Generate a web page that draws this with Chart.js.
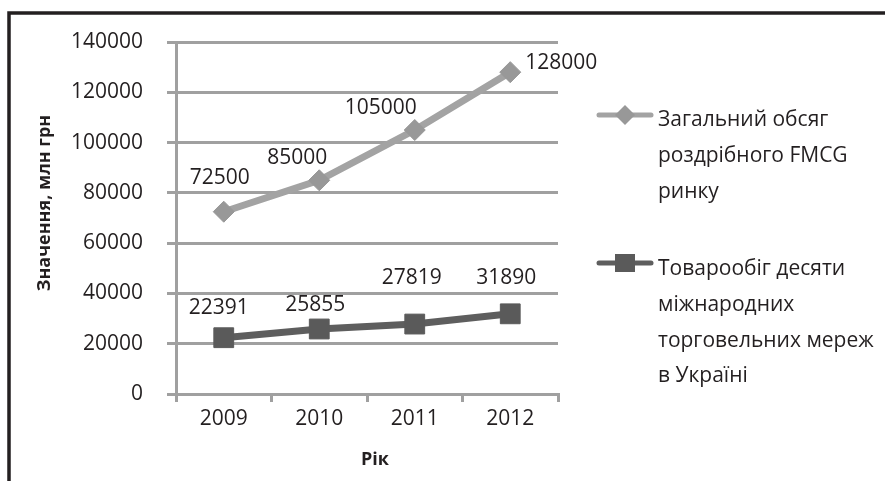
<!DOCTYPE html>
<html>
<head>
<meta charset="utf-8">
<script src="https://cdn.jsdelivr.net/npm/chart.js@4/dist/chart.umd.min.js"></script>
<style>
  html, body { margin: 0; padding: 0; background: #fff; }
  #wrap { width: 885px; height: 481px; position: relative; }
</style>
</head>
<body>
<div id="wrap"><canvas id="c" width="885" height="481"></canvas></div>
<script>
const years = ['2009', '2010', '2011', '2012'];
const totalMarket = [72500, 85000, 105000, 128000];
const chainTurnover = [22391, 25855, 27819, 31890];
const seriesNames = [
  ['Загальний обсяг', 'роздрібного FMCG', 'ринку'],
  ['Товарообіг десяти', 'міжнародних', 'торговельних мереж', 'в Україні']
];
const yTitle = 'Значення, млн грн';
const xTitle = 'Рік';

const FONT = '"Open Sans", "Noto Sans", sans-serif';
const C1 = '#a3a3a3', C1M = '#989898';
const C2 = '#5e5e5e', C2M = '#5a5a5a';
const GRID = '#a0a0a0';

// label offsets (px) relative to each point
const labelOffsets = [
  [[-4, -34], [-22, -22], [-34, -22], [51, -9]],
  [[-5, -30], [-4, -24], [-3, -46], [-4, -36]]
];

const decor = {
  id: 'decor',
  beforeDraw(chart) {
    const ctx = chart.ctx;
    ctx.save();
    ctx.fillStyle = '#fff';
    ctx.fillRect(0, 0, chart.width, chart.height);
    ctx.strokeStyle = '#231f20';
    ctx.lineWidth = 3.5;
    ctx.beginPath();
    ctx.moveTo(9, 481);
    ctx.lineTo(9, 13);
    ctx.lineTo(885, 13);
    ctx.stroke();
    ctx.restore();
  },
  afterDraw(chart) {
    const ctx = chart.ctx;
    ctx.save();
    // axis titles
    ctx.fillStyle = '#231f20';
    ctx.font = 'bold 18px ' + FONT;
    ctx.textAlign = 'center';
    ctx.textBaseline = 'middle';
    ctx.fillText(xTitle, 375, 460);
    ctx.translate(45, 203);
    ctx.rotate(-Math.PI / 2);
    ctx.fillText(yTitle, 0, 0);
    ctx.restore();

    // data labels
    ctx.save();
    ctx.font = '21px ' + FONT;
    ctx.fillStyle = '#231f20';
    ctx.textAlign = 'center';
    ctx.textBaseline = 'middle';
    chart.data.datasets.forEach((ds, di) => {
      const meta = chart.getDatasetMeta(di);
      meta.data.forEach((pt, i) => {
        const off = labelOffsets[di][i];
        ctx.fillText(String(ds.data[i]), pt.x + off[0], pt.y + off[1]);
      });
    });
    ctx.restore();

    // legend
    ctx.save();
    const legendY = [115, 263];
    const baselines = [[126, 162, 198], [275, 311, 347, 382]];
    chart.data.datasets.forEach((ds, di) => {
      const y = legendY[di];
      ctx.strokeStyle = ds.borderColor;
      ctx.lineWidth = 5;
      ctx.lineCap = 'round';
      ctx.beginPath();
      ctx.moveTo(599, y);
      ctx.lineTo(651, y);
      ctx.stroke();
      ctx.fillStyle = ds.pointBackgroundColor;
      ctx.beginPath();
      if (di === 0) {
        ctx.moveTo(625, y - 10);
        ctx.lineTo(635, y);
        ctx.lineTo(625, y + 10);
        ctx.lineTo(615, y);
        ctx.closePath();
      } else {
        ctx.rect(615, y - 9, 20, 18);
      }
      ctx.fill();
      ctx.fillStyle = '#231f20';
      ctx.font = '21px ' + FONT;
      ctx.textAlign = 'left';
      ctx.textBaseline = 'alphabetic';
      seriesNames[di].forEach((line, li) => {
        ctx.fillText(line, 658, baselines[di][li]);
      });
    });
    ctx.restore();
  }
};

new Chart(document.getElementById('c'), {
  type: 'line',
  data: {
    labels: years,
    datasets: [
      {
        label: seriesNames[0].join(' '),
        data: totalMarket,
        borderColor: C1,
        borderWidth: 7,
        pointStyle: 'rectRot',
        pointRadius: 10.5,
        pointBackgroundColor: C1M,
        pointBorderColor: C1M,
        pointBorderWidth: 1,
        tension: 0
      },
      {
        label: seriesNames[1].join(' '),
        data: chainTurnover,
        borderColor: C2,
        borderWidth: 7,
        pointStyle: 'rect',
        pointRadius: 14,
        pointBackgroundColor: C2M,
        pointBorderColor: C2M,
        pointBorderWidth: 1,
        tension: 0
      }
    ]
  },
  options: {
    responsive: false,
    animation: false,
    devicePixelRatio: 1,
    layout: { padding: { left: 0, top: 42, right: 327, bottom: 0 } },
    plugins: { legend: { display: false }, tooltip: { enabled: false } },
    scales: {
      x: {
        type: 'category',
        offset: true,
        grid: {
          offset: true,
          drawOnChartArea: false,
          drawTicks: true,
          tickLength: 8,
          color: GRID,
          lineWidth: 3
        },
        border: { display: true, color: GRID, width: 3 },
        ticks: { color: '#231f20', font: { family: FONT, size: 21 }, padding: 4, maxRotation: 0 },
        afterFit(s) { s.height = 87; }
      },
      y: {
        min: 0,
        max: 140000,
        ticks: {
          stepSize: 20000,
          color: '#231f20',
          font: { family: FONT, size: 21 },
          padding: 24,
          callback: (v) => String(v)
        },
        grid: { color: GRID, lineWidth: 3, tickLength: 9, drawTicks: true },
        border: { display: true, color: GRID, width: 3 },
        afterFit(s) { s.width = 176; }
      }
    }
  },
  plugins: [decor]
});
</script>
</body>
</html>
